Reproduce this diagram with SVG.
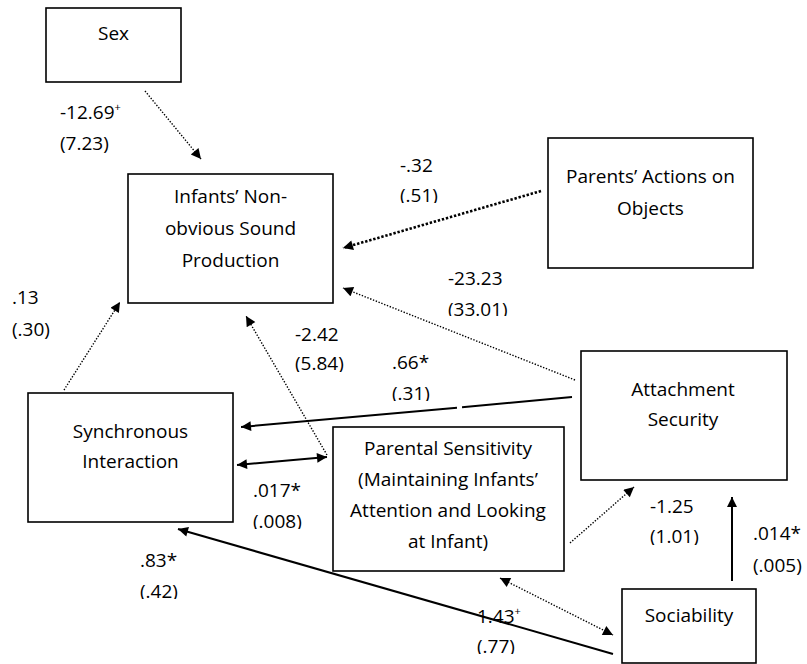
<svg xmlns="http://www.w3.org/2000/svg" width="807" height="664" viewBox="0 0 807 664">
<style>
.box{fill:#fff;stroke:#000;stroke-width:1.6}
.t{font-family:"Open Sans","Noto Sans","Liberation Sans",sans-serif;font-size:19px;fill:#000}
.c{text-anchor:middle}
.sup{font-size:11px}
.solid{fill:none;stroke:#000;stroke-width:2}
.dot{fill:none;stroke:#000;stroke-width:1.4;stroke-dasharray:1.4 1.6}
.dotb{fill:none;stroke:#000;stroke-width:2.6;stroke-dasharray:2.4 1.8}
</style>
<defs>
<marker id="ah" viewBox="0 0 10 10" refX="10" refY="5" markerWidth="12" markerHeight="10" markerUnits="userSpaceOnUse" orient="auto-start-reverse">
<path d="M0,0 L10,5 L0,10 Z" fill="#000"/>
</marker>
<clipPath id="c51"><rect x="390" y="150" width="60" height="53"/></clipPath>
<clipPath id="c3301"><rect x="440" y="260" width="80" height="56"/></clipPath>
<clipPath id="c584"><rect x="290" y="320" width="70" height="52"/></clipPath>
<clipPath id="c31"><rect x="385" y="350" width="60" height="51"/></clipPath>
<clipPath id="c008"><rect x="245" y="475" width="70" height="54"/></clipPath>
<clipPath id="c42"><rect x="135" y="545" width="60" height="54"/></clipPath>
<clipPath id="c101"><rect x="645" y="490" width="70" height="55"/></clipPath>
<clipPath id="c77"><rect x="470" y="600" width="60" height="54"/></clipPath>
</defs>

<g id="connectors">
<line class="dot" x1="145" y1="91" x2="201" y2="159" marker-end="url(#ah)"/>
<line class="dotb" x1="541" y1="191" x2="343" y2="248" marker-end="url(#ah)"/>
<line class="dot" x1="575" y1="380" x2="343" y2="288" marker-end="url(#ah)"/>
<line class="dot" x1="64" y1="390" x2="120" y2="302" marker-end="url(#ah)"/>
<line class="dot" x1="327" y1="455" x2="246" y2="316" marker-end="url(#ah)"/>
<line class="solid" x1="572" y1="397" x2="462" y2="407.3"/>
<line class="solid" x1="457" y1="407.8" x2="241" y2="427" marker-end="url(#ah)"/>
<line class="solid" x1="237" y1="465" x2="327" y2="457" marker-start="url(#ah)" marker-end="url(#ah)"/>
<line class="solid" x1="613" y1="654" x2="178" y2="529" marker-end="url(#ah)"/>
<line class="dot" x1="570" y1="543" x2="634" y2="487" marker-end="url(#ah)"/>
<line class="solid" x1="732" y1="581" x2="732" y2="497" marker-end="url(#ah)"/>
<line class="dot" x1="500" y1="578" x2="613" y2="635" marker-start="url(#ah)" marker-end="url(#ah)"/>
</g>

<g id="labels">
<text class="t" x="60" y="119">-12.69<tspan class="sup" dy="-8">+</tspan></text>
<text class="t" x="60" y="150">(7.23)</text>
<text class="t" x="400" y="172">-.32</text>
<text class="t" x="400" y="202" clip-path="url(#c51)">(.51)</text>
<text class="t" x="448" y="285">-23.23</text>
<text class="t" x="448" y="316" clip-path="url(#c3301)">(33.01)</text>
<text class="t" x="12" y="304">.13</text>
<text class="t" x="12" y="336">(.30)</text>
<text class="t" x="295" y="341">-2.42</text>
<text class="t" x="295" y="370" clip-path="url(#c584)">(5.84)</text>
<text class="t" x="392" y="369">.66*</text>
<text class="t" x="392" y="400" clip-path="url(#c31)">(.31)</text>
<text class="t" x="253" y="497">.017*</text>
<text class="t" x="253" y="528" clip-path="url(#c008)">(.008)</text>
<text class="t" x="140" y="567">.83*</text>
<text class="t" x="140" y="598" clip-path="url(#c42)">(.42)</text>
<text class="t" x="650" y="513">-1.25</text>
<text class="t" x="650" y="543" clip-path="url(#c101)">(1.01)</text>
<text class="t" x="753" y="540">.014*</text>
<text class="t" x="753" y="572">(.005)</text>
<text class="t" x="477" y="623">1.43<tspan class="sup" dy="-8">+</tspan></text>
<text class="t" x="477" y="653" clip-path="url(#c77)">(.77)</text>
</g>

<g id="sex">
<rect class="box" x="46" y="8" width="135" height="74"/>
<text class="t c" x="113.5" y="40">Sex</text>
</g>
<g id="infants">
<rect class="box" x="128" y="174" width="205" height="129"/>
<text class="t c" x="230.5" y="203">Infants’ Non-</text>
<text class="t c" x="230.5" y="235">obvious Sound</text>
<text class="t c" x="230.5" y="267">Production</text>
</g>
<g id="parents-actions">
<rect class="box" x="548" y="138" width="205" height="130"/>
<text class="t c" x="650.5" y="183">Parents’ Actions on</text>
<text class="t c" x="650.5" y="215">Objects</text>
</g>
<g id="attachment">
<rect class="box" x="581" y="351" width="206" height="129"/>
<text class="t c" x="683" y="396">Attachment</text>
<text class="t c" x="683" y="426">Security</text>
</g>
<g id="synchronous">
<rect class="box" x="28" y="393" width="205" height="129"/>
<text class="t c" x="130.5" y="438">Synchronous</text>
<text class="t c" x="130.5" y="468">Interaction</text>
</g>
<g id="parental-sensitivity">
<rect class="box" x="333" y="427" width="231" height="144"/>
<text class="t c" x="448" y="455">Parental Sensitivity</text>
<text class="t c" x="448" y="486">(Maintaining Infants’</text>
<text class="t c" x="448" y="517">Attention and Looking</text>
<text class="t c" x="448" y="548">at Infant)</text>
</g>
<g id="sociability">
<rect class="box" x="622" y="589" width="134" height="74"/>
<text class="t c" x="689" y="622">Sociability</text>
</g>
</svg>
